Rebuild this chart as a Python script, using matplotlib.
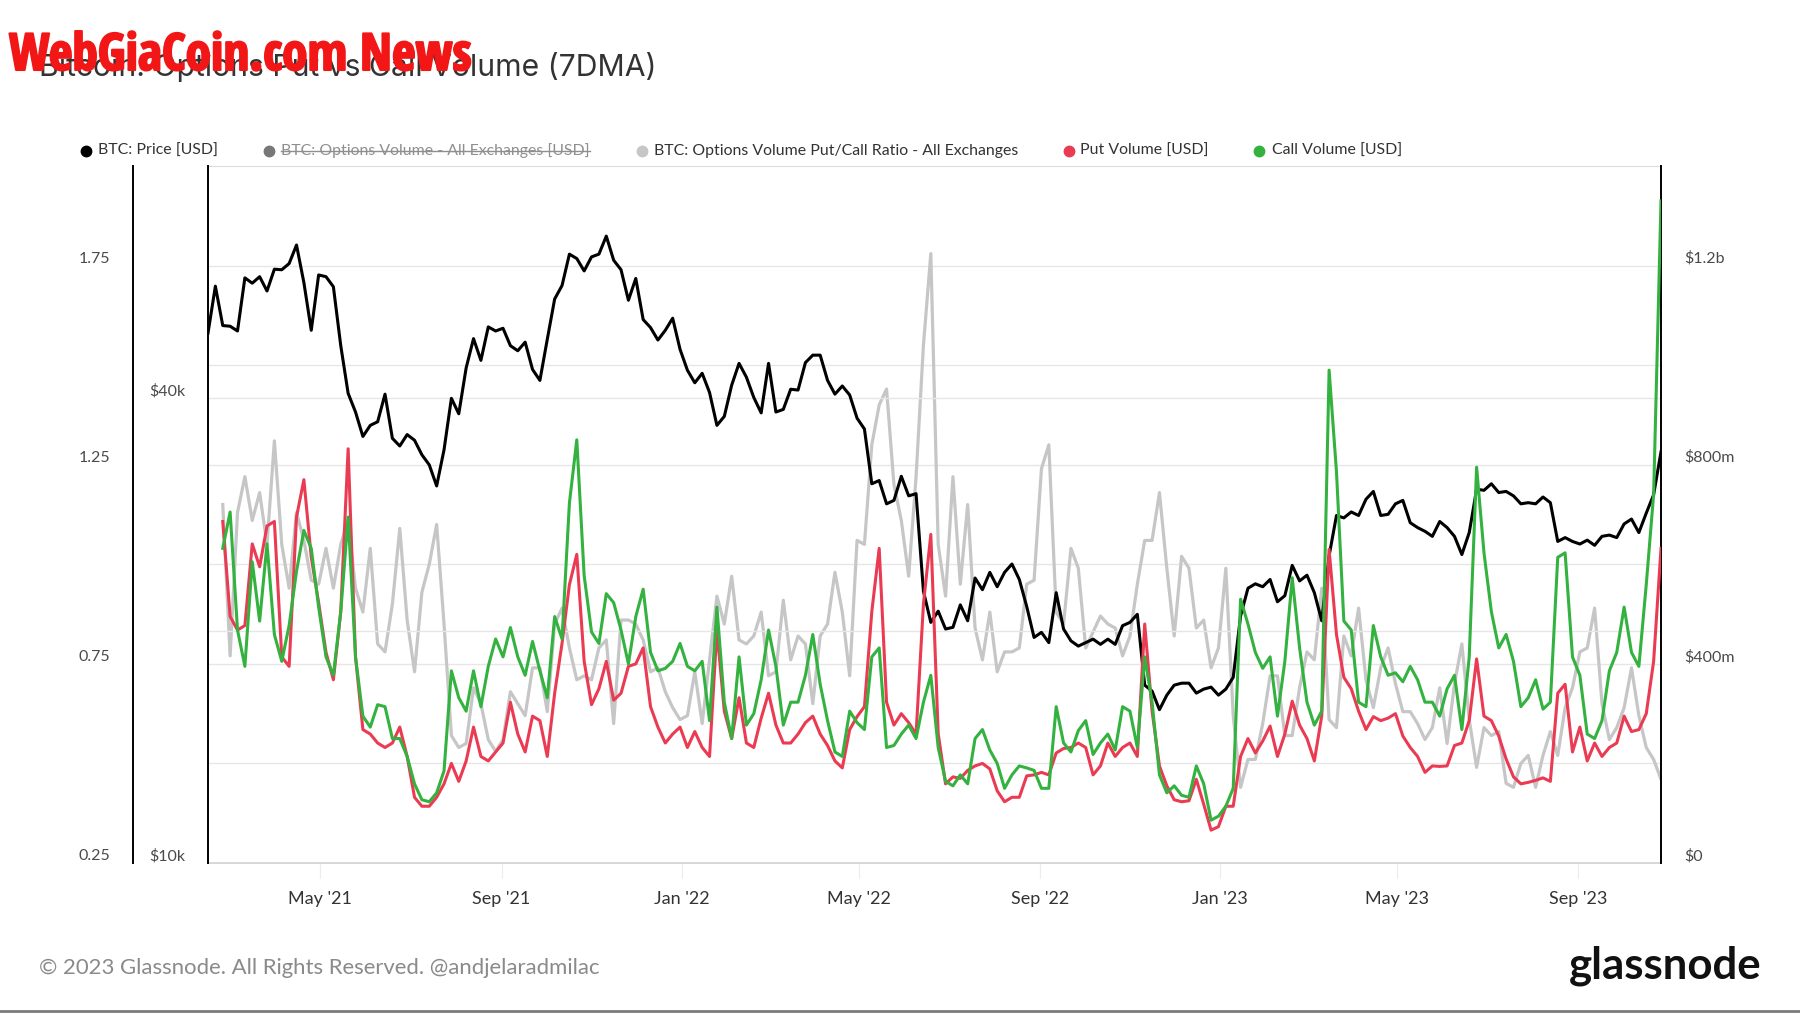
import numpy as np
import pandas as pd
import matplotlib
matplotlib.use('Agg')
import matplotlib.pyplot as plt
import matplotlib.dates as mdates
import matplotlib.transforms as mtransforms
import matplotlib.patheffects as pe
from matplotlib.lines import Line2D

plt.rcParams['font.family'] = ['Lato', 'DejaVu Sans']

nan = np.nan

# BTC price in k USD, every 5 days from 2021-02-14
price_k = [
    48.6, 55.9, 49.7, 49.6, 48.9, 57.3, 56.4, 57.5, 55.1, 58.8, 58.7, 59.8, 63.2, 56.5, 49.0, 57.8,
    57.5, 55.8, 46.8, 40.6, 38.4, 35.7, 36.9, 37.3, 40.5, 35.5, 34.7, 35.9, 35.3, 33.8, 32.8, 30.8,
    34.3, 40.0, 38.2, 43.8, 47.8, 44.8, 49.5, 48.9, 49.3, 46.8, 46.1, 47.3, 43.6, 42.2, 47.7, 53.8,
    56.0, 61.5, 60.7, 58.5, 61.0, 61.5, 64.9, 60.4, 58.7, 53.6, 57.2, 50.6, 49.4, 47.6, 49.0, 50.8,
    46.3, 43.5, 41.9, 43.1, 40.7, 36.9, 37.9, 41.6, 44.4, 42.6, 40.1, 38.3, 44.4, 38.4, 38.7, 41.1,
    41.0, 44.5, 45.5, 45.5, 42.2, 40.5, 41.5, 40.4, 37.7, 36.5, 31.0, 31.3, 29.2, 29.5, 31.7, 29.9,
    30.1, 22.5, 20.5, 21.2, 20.1, 20.2, 21.6, 20.6, 23.4, 22.6, 23.8, 22.8, 23.8, 24.4, 23.3, 21.5,
    19.6, 19.9, 19.3, 22.4, 20.1, 19.4, 19.1, 19.3, 19.5, 19.2, 19.5, 19.2, 20.3, 20.5, 21.0, 17.0,
    16.7, 15.8, 16.5, 17.0, 17.1, 17.1, 16.6, 16.8, 16.9, 16.5, 16.8, 17.4, 20.9, 22.7, 23.0, 22.8,
    23.3, 21.8, 22.2, 24.3, 23.2, 23.6, 22.4, 20.6, 25.0, 28.2, 28.0, 28.5, 28.2, 29.6, 30.3, 28.2,
    28.3, 29.2, 29.5, 27.6, 27.2, 26.9, 26.5, 27.7, 27.2, 26.5, 25.1, 26.8, 30.5, 30.4, 31.0, 30.2,
    30.3, 29.9, 29.2, 29.3, 29.2, 29.8, 29.3, 26.1, 26.4, 26.1, 25.9, 26.2, 25.8, 26.5, 26.6, 26.4,
    27.5, 27.9, 26.8, 28.4, 30.0, 34.1,
]

put_call_ratio = [
    nan, nan, 1.15, 0.77, 1.13, 1.22, 1.11, 1.18, 1.05, 1.31, 1.05, 0.94, 1.13, 1.06, 0.96, 0.95,
    1.04, 0.94, 1.05, 1.11, 0.94, 0.88, 1.04, 0.80, 0.78, 0.90, 1.09, 0.86, 0.73, 0.93, 1.00, 1.10,
    0.85, 0.57, 0.54, 0.55, 0.69, 0.65, 0.56, 0.53, 0.56, 0.68, 0.65, 0.62, 0.74, 0.74, 0.63, 0.85,
    0.89, 0.79, 0.71, 0.72, 0.71, 0.79, 0.81, 0.60, 0.86, 0.86, 0.85, 0.81, 0.73, 0.74, 0.68, 0.64,
    0.61, 0.62, 0.73, 0.60, 0.76, 0.92, 0.85, 0.97, 0.81, 0.80, 0.82, 0.88, 0.72, 0.73, 0.91, 0.76,
    0.82, 0.80, 0.65, 0.82, 0.85, 0.98, 0.88, 0.72, 1.06, 1.05, 1.30, 1.40, 1.44, 1.20, 1.11, 0.97,
    1.22, 1.55, 1.78, 1.05, 0.92, 1.22, 0.95, 1.15, 0.84, 0.76, 0.88, 0.73, 0.78, 0.78, 0.79, 0.95,
    0.96, 1.24, 1.30, 0.88, 0.85, 1.04, 0.99, 0.79, 0.83, 0.87, 0.85, 0.84, 0.77, 0.82, 0.95, 1.06,
    1.06, 1.18, 0.99, 0.82, 1.02, 0.99, 0.84, 0.86, 0.74, 0.79, 0.99, 0.62, 0.44, 0.51, 0.51, 0.60,
    0.72, 0.72, 0.57, 0.57, 0.69, 0.78, 0.76, 0.94, 0.61, 0.59, 0.82, 0.77, 0.89, 0.71, 0.64, 0.74,
    0.79, 0.70, 0.63, 0.63, 0.60, 0.56, 0.59, 0.69, 0.55, 0.70, 0.80, 0.61, 0.49, 0.59, 0.57, 0.58,
    0.45, 0.44, 0.50, 0.52, 0.44, 0.52, 0.58, 0.52, 0.64, 0.69, 0.78, 0.79, 0.89, 0.65, 0.56, 0.59,
    0.64, 0.74, 0.62, 0.54, 0.51, 0.46,
]

# put / call volume in million USD
put_volume_m = [
    nan, nan, 686, 495, 468, 477, 641, 595, 677, 686, 414, 395, 695, 770, 614, 523,
    423, 368, 505, 832, 414, 268, 259, 241, 232, 241, 273, 214, 132, 114, 114, 132,
    159, 200, 164, 205, 273, 214, 205, 223, 241, 323, 259, 223, 295, 286, 214, 341,
    441, 559, 620, 405, 318, 350, 405, 327, 341, 395, 400, 432, 314, 273, 241, 259,
    273, 232, 264, 232, 214, 468, 305, 250, 332, 241, 232, 291, 341, 277, 241, 241,
    259, 282, 295, 259, 236, 205, 191, 268, 294, 314, 505, 632, 323, 277, 300, 282,
    259, 520, 660, 260, 159, 173, 170, 186, 195, 200, 189, 145, 123, 132, 132, 175,
    177, 182, 177, 221, 230, 232, 241, 232, 177, 195, 241, 214, 232, 241, 214, 480,
    305, 195, 155, 127, 123, 125, 168, 118, 66, 73, 114, 114, 214, 250, 221, 245,
    275, 214, 259, 325, 277, 250, 205, 295, 630, 459, 373, 350, 305, 268, 294, 286,
    291, 300, 255, 232, 214, 182, 195, 194, 195, 236, 241, 286, 410, 295, 286, 255,
    209, 173, 159, 162, 166, 171, 164, 341, 359, 223, 273, 205, 241, 214, 232, 241,
    295, 264, 268, 300, 405, 632,
]

call_volume_m = [
    nan, nan, 632, 705, 468, 395, 605, 486, 641, 459, 405, 477, 586, 668, 632, 514,
    414, 377, 505, 695, 414, 295, 273, 318, 314, 250, 250, 214, 159, 127, 123, 141,
    185, 386, 332, 305, 386, 314, 395, 450, 414, 473, 414, 377, 445, 386, 332, 495,
    450, 723, 850, 577, 464, 441, 541, 523, 468, 400, 495, 550, 423, 386, 391, 405,
    441, 395, 386, 405, 286, 514, 323, 250, 414, 277, 300, 368, 468, 395, 277, 323,
    323, 377, 459, 359, 286, 223, 214, 305, 282, 268, 414, 432, 232, 236, 259, 277,
    250, 323, 377, 232, 164, 155, 177, 159, 250, 268, 227, 200, 150, 177, 195, 191,
    186, 150, 150, 314, 241, 223, 266, 286, 218, 241, 259, 227, 314, 305, 232, 414,
    323, 177, 141, 155, 136, 132, 195, 159, 86, 94, 114, 150, 530, 480, 423, 391,
    414, 295, 405, 573, 432, 323, 277, 305, 990, 786, 486, 468, 323, 314, 477, 414,
    377, 382, 364, 395, 368, 323, 323, 295, 350, 377, 268, 414, 795, 623, 505, 432,
    459, 405, 314, 332, 368, 309, 323, 614, 623, 414, 377, 259, 250, 286, 386, 423,
    514, 423, 395, 559, 740, 1330,
]

dates = pd.date_range('2021-02-14', periods=len(price_k), freq='5D')
price = np.array(price_k) * 1000
put_vol = np.array(put_volume_m) * 1e6
call_vol = np.array(call_volume_m) * 1e6

W, H = 1800, 1013
fig = plt.figure(figsize=(W / 100, H / 100), dpi=100)
fig.patch.set_facecolor('white')

L, R, T, B = 208, 1661, 166, 863
ax = fig.add_axes([L / W, 1 - B / H, (R - L) / W, (B - T) / H])
axp = ax.twinx()
axv = ax.twinx()

GRID = '#e6e6e6'
LBL = '#4a4a4a'
PAD = 16.5

# ratio axis (outer left)
ax.plot(dates, put_call_ratio, color='#c6c6c6', lw=2.3, zorder=2)
ax.set_ylim(0.25, 2.0)
ax.set_yticks([0.25, 0.5, 0.75, 1.0, 1.25, 1.5, 1.75],
              ['0.25', '', '0.75', '', '1.25', '', '1.75'])
ax.yaxis.grid(True, color=GRID, lw=1)
ax.set_axisbelow(True)
ax.spines['left'].set_position(('outward', 54))
ax.spines['left'].set_color('black')
ax.spines['left'].set_linewidth(1.4)
ax.spines['right'].set_visible(False)
ax.spines['top'].set_color('#dcdcdc')
ax.spines['bottom'].set_color('#d0d0d0')
ax.spines['bottom'].set_linewidth(1.2)
ax.tick_params(axis='y', length=0, pad=PAD, labelsize=11.5, labelcolor=LBL)

# price axis (inner left, log)
axp.plot(dates, price, color='black', lw=2.2, zorder=3)
axp.set_yscale('log')
axp.set_ylim(10000, 80000)
axp.yaxis.tick_left()
axp.set_yticks([10000, 20000, 40000], ['$10k', '', '$40k'])
axp.yaxis.set_minor_locator(matplotlib.ticker.NullLocator())
axp.yaxis.grid(True, color=GRID, lw=1)
axp.set_axisbelow(True)
axp.tick_params(axis='y', length=0, pad=PAD, labelsize=11.5, labelcolor=LBL)
for s in ['right', 'top', 'bottom']:
    axp.spines[s].set_visible(False)
axp.spines['left'].set_color('black')
axp.spines['left'].set_linewidth(1.4)

# volume axis (right)
axv.plot(dates, put_vol, color='#ea3b53', lw=2.2, zorder=3)
axv.plot(dates, call_vol, color='#34b23f', lw=2.2, zorder=4)
axv.set_ylim(0, 1.4e9)
axv.set_yticks([0, 0.4e9, 0.8e9, 1.2e9], ['$0', '$400m', '$800m', '$1.2b'])
axv.tick_params(axis='y', length=0, pad=PAD, labelsize=11.5, labelcolor=LBL)
for s in ['left', 'top', 'bottom']:
    axv.spines[s].set_visible(False)
axv.spines['right'].set_color('black')
axv.spines['right'].set_linewidth(1.4)

ax.set_xlim(pd.Timestamp('2021-02-14'), pd.Timestamp('2023-10-27'))
ax.xaxis.set_major_locator(mdates.MonthLocator(bymonth=[1, 5, 9]))
ax.xaxis.set_major_formatter(mdates.DateFormatter("%b '%y"))
ax.tick_params(axis='x', length=11, color='#ececec', pad=9, labelsize=13, labelcolor='#333333')

# title and watermark
fig.text(39 / W, 1 - 66.5 / H, 'Bitcoin: Options Put vs Call Volume (7DMA)', fontsize=21.7,
         color='#333333', va='center', ha='left', family=['Inter', 'DejaVu Sans'])
WM_RED = '#f21616'
wm = fig.text(9 / W, 1 - 57 / H, 'WebGiaCoin.com News', fontsize=36, fontweight='black',
              color=WM_RED, va='center', ha='left',
              family=['Open Sans Condensed', 'Noto Sans ExtraCondensed Black',
                      'Noto Sans Condensed ExtraBold', 'Lato'],
              path_effects=[pe.withStroke(linewidth=1.5, foreground=WM_RED)])

# legend
legend_items = [
    ('BTC: Price [USD]', 'black', 86, 98, False),
    ('BTC: Options Volume - All Exchanges [USD]', '#777777', 269, 281, True),
    ('BTC: Options Volume Put/Call Ratio - All Exchanges', '#c6c6c6', 642, 654, False),
    ('Put Volume [USD]', '#ea3b53', 1069, 1080, False),
    ('Call Volume [USD]', '#34b23f', 1259, 1272, False),
]
ly = 1 - 151 / H
struck = []
for label, col, cx, tx, strike in legend_items:
    fig.add_artist(Line2D([cx / W], [ly], marker='o', markersize=7.5, color=col,
                          transform=fig.transFigure, lw=0))
    t = fig.text(tx / W, ly, label, fontsize=11.4, va='center', ha='left',
                 color='#8f8f8f' if strike else '#333333')
    if strike:
        struck.append(t)

# footer
fig.text(39 / W, 1 - 968 / H, '\u00a9 2023 Glassnode. All Rights Reserved. @andjelaradmilac',
         fontsize=15.9, color='#8a8a8a', va='center', ha='left')
fig.text(1762 / W, 1 - 966 / H, 'glassnode', fontsize=31.5, fontweight='bold', color='#111111',
         va='center', ha='right')
fig.add_artist(Line2D([0, 1], [1 - 1011 / H, 1 - 1011 / H], color='#7a7a7a', lw=2,
                      transform=fig.transFigure))

fig.canvas.draw()
r = fig.canvas.get_renderer()
bb = wm.get_window_extent(r)
wm.set_fontsize(36 * 462 / bb.width)
for t in struck:
    b = t.get_window_extent(r)
    ym = (b.y0 + b.y1) / 2 / H
    fig.add_artist(Line2D([b.x0 / W, b.x1 / W], [ym, ym], color='#8f8f8f', lw=1,
                          transform=fig.transFigure))

# glassnode places y labels a little above their grid line
lift = mtransforms.ScaledTranslation(0, 7.0 / 100, fig.dpi_scale_trans)
for a in (ax, axp, axv):
    t1 = a.get_yaxis_text1_transform(PAD)[0] + lift
    t2 = a.get_yaxis_text2_transform(PAD)[0] + lift
    for tk in a.yaxis.get_major_ticks():
        tk.label1.set_transform(t1)
        tk.label2.set_transform(t2)
        tk.label1.set_verticalalignment('center')
        tk.label2.set_verticalalignment('center')

fig.savefig('out.png', dpi=100)
